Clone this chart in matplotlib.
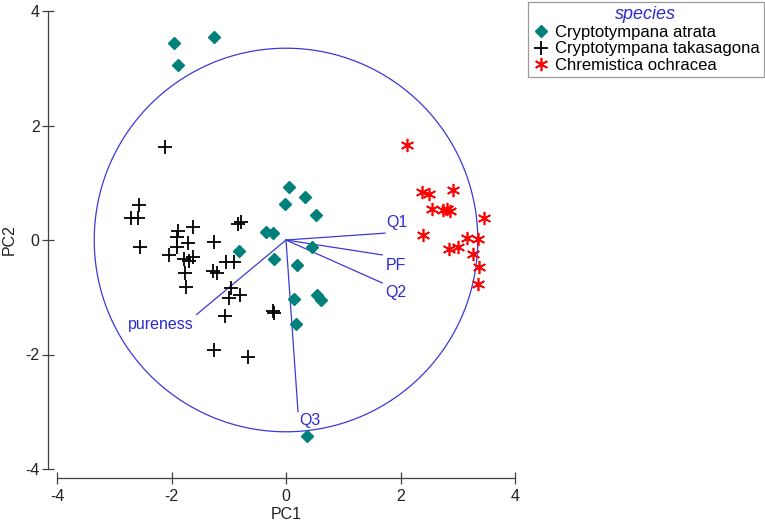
import matplotlib
matplotlib.use("Agg")
import matplotlib.pyplot as plt
import numpy as np

plt.rcParams['font.family'] = ['Liberation Sans', 'DejaVu Sans']

# ---- data ----
atrata_x = [-1.95, -1.25, -1.89, 0.06, 0.34, -0.01, 0.52, -0.35, -0.23, -0.82,
            0.45, -0.21, 0.19, 0.14, 0.55, 0.62, 0.17, 0.37]
atrata_y = [3.44, 3.54, 3.05, 0.93, 0.75, 0.63, 0.43, 0.14, 0.12, -0.20,
            -0.12, -0.33, -0.44, -1.03, -0.96, -1.04, -1.46, -3.42]

taka_x = [-2.12, -2.56, -2.70, -2.58, -2.55, -1.88, -1.90, -1.63, -1.72, -1.91,
          -2.04, -1.78, -1.70, -1.62, -1.77, -1.75, -1.26, -0.84, -0.78, -1.27,
          -1.21, -1.04, -0.91, -0.96, -0.99, -0.80, -1.07, -0.23, -0.21, -1.25,
          -0.67]
taka_y = [1.63, 0.62, 0.39, 0.39, -0.13, 0.15, 0.05, 0.23, -0.06, -0.13,
          -0.26, -0.34, -0.37, -0.29, -0.57, -0.82, -0.03, 0.28, 0.31, -0.54,
          -0.57, -0.38, -0.38, -0.83, -1.01, -0.96, -1.33, -1.24, -1.27, -1.93,
          -2.05]

ochr_x = [2.11, 2.37, 2.49, 2.92, 2.55, 2.74, 2.81, 2.87, 3.46, 2.39,
          2.84, 3.00, 3.16, 3.36, 3.26, 3.37, 3.36]
ochr_y = [1.66, 0.83, 0.80, 0.87, 0.55, 0.52, 0.54, 0.51, 0.38, 0.08,
          -0.15, -0.12, 0.03, 0.01, -0.25, -0.47, -0.77]

var_names = ['Q1', 'PF', 'Q2', 'Q3', 'pureness']
var_x = [1.73, 1.68, 1.68, 0.21, -1.56]
var_y = [0.12, -0.26, -0.75, -3.00, -1.30]
label_x = [1.93, 1.92, 1.91, 0.42, -1.61]
label_y = [0.30, -0.45, -0.92, -3.16, -1.47]
label_ha = ['center', 'center', 'center', 'center', 'right']

circle_r = 3.35

xticks = [-4, -2, 0, 2, 4]
yticks = [-4, -2, 0, 2, 4]

# ---- figure ----
W, H = 765, 525
fig = plt.figure(figsize=(W / 100, H / 100), dpi=100)
ax = fig.add_axes([57 / W, (H - 469) / H, (515 - 57) / W, (469 - 11) / H])
ax.set_xlim(-4, 4)
ax.set_ylim(-4, 4)

blue = '#3a3ad6'
theta = np.linspace(0, 2 * np.pi, 400)
ax.plot(circle_r * np.cos(theta), circle_r * np.sin(theta), color=blue, lw=0.9,
        zorder=1, clip_on=False)

for n, vx, vy, lx, ly, ha in zip(var_names, var_x, var_y, label_x, label_y, label_ha):
    ax.plot([0, vx], [0, vy], color=blue, lw=0.9, zorder=1)
    ax.text(lx, ly, n, color='#2b2bd0', fontsize=11.5, ha=ha, va='center')

ax.plot(atrata_x, atrata_y, ls='none', marker='D', ms=6.3, color='#00807a',
        mec='#00807a', label='Cryptotympana atrata', zorder=3, clip_on=False)
ax.plot(taka_x, taka_y, ls='none', marker='+', ms=9.5, mew=1.3, color='black',
        label='Cryptotympana takasagona', zorder=3, clip_on=False)
ax.plot(ochr_x, ochr_y, ls='none', marker=(6, 2, 0), ms=9.5, mew=1.2, color='#ff0000',
        label='Chremistica ochracea', zorder=3, clip_on=False)

for s in ['top', 'right']:
    ax.spines[s].set_visible(False)
for s in ['left', 'bottom']:
    ax.spines[s].set_position(('outward', 6.5))
    ax.spines[s].set_color('#404040')
    ax.spines[s].set_linewidth(0.9)

ax.set_xticks(xticks)
ax.set_yticks(yticks)
ax.set_xticklabels([str(t) for t in xticks])
ax.set_yticklabels([str(t) for t in yticks])
ax.tick_params(direction='inout', length=8, width=0.9, color='#404040',
               labelsize=11.5, labelcolor='#222222')
ax.tick_params(axis='x', pad=4)
ax.tick_params(axis='y', pad=2)
ax.set_xlabel('PC1', fontsize=11.5, color='#222222', labelpad=2)
ax.set_ylabel('PC2', fontsize=11.5, color='#222222', labelpad=6)

leg = fig.legend(loc='upper left', bbox_to_anchor=(528 / W, 1 - 2 / H),
                 frameon=True, fancybox=False, fontsize=12, title='species',
                 handletextpad=0.35, borderpad=0.25, labelspacing=0.1,
                 handlelength=1.0, borderaxespad=0)
leg.get_title().set_color('#2b2bd0')
leg.get_title().set_fontstyle('italic')
leg.get_title().set_fontsize(13)
leg.get_frame().set_edgecolor('#808080')
leg.get_frame().set_linewidth(0.9)

fig.savefig('out.png', dpi=100)
